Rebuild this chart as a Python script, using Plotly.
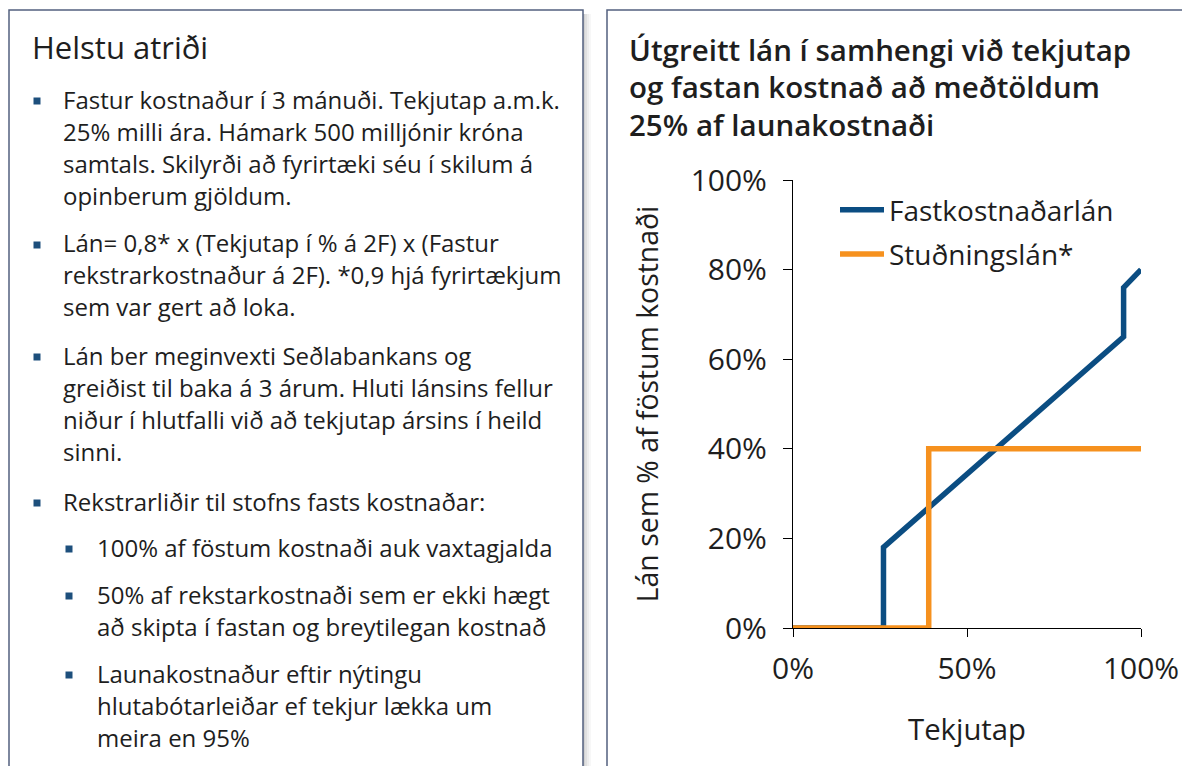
import plotly.graph_objects as go

W, H = 1182, 766

# ---- data ----
tekjutap_fast = [0, 26, 26, 95, 95, 100]
lan_fast = [0, 0, 18, 65, 76, 80]
tekjutap_stud = [0, 39, 39, 100]
lan_stud = [0, 0, 40, 40]
series_names = ["Fastkostnaðarlán", "Stuðningslán*"]
y_ticks = [0, 20, 40, 60, 80, 100]
y_ticklabels = ["0%", "20%", "40%", "60%", "80%", "100%"]
x_ticks = [0, 50, 100]
x_ticklabels = ["0%", "50%", "100%"]

chart_title = ["Útgreitt lán í samhengi við tekjutap",
               "og fastan kostnað að meðtöldum",
               "25% af launakostnaði"]
panel_title = "Helstu atriði"
# (lines, level, y of first line)
bullets = [
    (["Fastur kostnaður í 3 mánuði. Tekjutap a.m.k.",
      "25% milli ára. Hámark 500 milljónir króna",
      "samtals. Skilyrði að fyrirtæki séu í skilum á",
      "opinberum gjöldum."], 0, 101),
    (["Lán= 0,8* x (Tekjutap í % á 2F) x (Fastur",
      "rekstrarkostnaður á 2F). *0,9 hjá fyrirtækjum",
      "sem var gert að loka."], 0, 245),
    (["Lán ber meginvexti Seðlabankans og",
      "greiðist til baka á 3 árum. Hluti lánsins fellur",
      "niður í hlutfalli við að tekjutap ársins í heild",
      "sinni."], 0, 357),
    (["Rekstrarliðir til stofns fasts kostnaðar:"], 0, 503),
    (["100% af föstum kostnaði auk vaxtagjalda"], 1, 549),
    (["50% af rekstarkostnaði sem er ekki hægt",
      "að skipta í fastan og breytilegan kostnað"], 1, 596),
    (["Launakostnaður eftir nýtingu",
      "hlutabótarleiðar ef tekjur lækka um",
      "meira en 95%"], 1, 675),
]

BLUE = "#0b4d82"
ORANGE = "#f6911e"
TXT = "#1e1e1e"
FONT = "Open Sans"


def px(x):
    return x / W


def py(y):
    return 1 - y / H


fig = go.Figure()
fig.add_trace(go.Scatter(x=tekjutap_fast, y=lan_fast, mode="lines", name=series_names[0],
                         line=dict(color=BLUE, width=5.5), cliponaxis=False, legendgroup="a"))
fig.add_trace(go.Scatter(x=tekjutap_stud, y=lan_stud, mode="lines", name=series_names[1],
                         line=dict(color=ORANGE, width=5.5), cliponaxis=False, legendgroup="b"))

annotations = []
shapes = []

# panels
shadow_cols = ["rgba(0,0,0,0.18)", "rgba(0,0,0,0.12)", "rgba(0,0,0,0.07)", "rgba(0,0,0,0.03)"]
for i, c in enumerate(shadow_cols):
    shapes.append(dict(type="rect", xref="paper", yref="paper", layer="below",
                       x0=px(583 + 2 * i), x1=px(585 + 2 * i), y0=py(800), y1=py(14),
                       line=dict(width=0), fillcolor=c))
shapes.append(dict(type="rect", xref="paper", yref="paper", layer="below",
                   x0=px(9), x1=px(583), y0=py(800), y1=py(10),
                   line=dict(color="#53607f", width=1.5), fillcolor="white"))
shapes.append(dict(type="rect", xref="paper", yref="paper", layer="below",
                   x0=px(607), x1=px(1200), y0=py(800), y1=py(10),
                   line=dict(color="#53607f", width=1.5), fillcolor="white"))

annotations.append(dict(text=panel_title, x=px(30), y=py(47), xref="paper", yref="paper",
                        xanchor="left", yanchor="middle", showarrow=False,
                        font=dict(family=FONT, size=31, color=TXT)))

LINE_H = 32
for lines, level, y0 in bullets:
    bx = 37 if level == 0 else 69
    tx = 61 if level == 0 else 95
    shapes.append(dict(type="rect", xref="paper", yref="paper",
                       x0=px(bx - 3.5), x1=px(bx + 3.5), y0=py(y0 + 3.5), y1=py(y0 - 3.5),
                       line=dict(width=0), fillcolor="#1d4f7c"))
    for k, ln in enumerate(lines):
        annotations.append(dict(text=ln, x=px(tx), y=py(y0 - 2 + k * LINE_H), xref="paper", yref="paper",
                                xanchor="left", yanchor="middle", showarrow=False,
                                font=dict(family=FONT, size=24, color=TXT)))

for k, ln in enumerate(chart_title):
    annotations.append(dict(text=ln, x=px(627), y=py(49 + k * 38), xref="paper", yref="paper",
                            xanchor="left", yanchor="middle", showarrow=False,
                            font=dict(family=FONT, size=29.5, color=TXT, weight=600)))

fig.update_layout(
    width=W, height=H,
    margin=dict(l=0, r=0, t=0, b=0, autoexpand=False),
    paper_bgcolor="white", plot_bgcolor="rgba(0,0,0,0)",
    font=dict(family=FONT, color=TXT),
    showlegend=True,
    legend=dict(x=px(835), y=py(185), xanchor="left", yanchor="top",
                bgcolor="rgba(0,0,0,0)", font=dict(family=FONT, size=28, color=TXT),
                itemwidth=44, tracegroupgap=5),
    xaxis=dict(domain=[px(793), px(1141)], range=[0, 100], tickvals=x_ticks, ticktext=x_ticklabels,
               showgrid=False, zeroline=False, showline=True, linecolor="black", linewidth=1.2,
               ticks="outside", ticklen=8, tickcolor="black", tickwidth=1.2,
               tickfont=dict(family=FONT, size=30, color=TXT), ticklabelstandoff=6,
               layer="below traces",
               title=dict(text="Tekjutap", font=dict(family=FONT, size=29.3, color=TXT), standoff=32)),
    yaxis=dict(domain=[py(628), py(180)], range=[0, 100], tickvals=y_ticks, ticktext=y_ticklabels,
               showgrid=False, zeroline=False, showline=True, linecolor="black", linewidth=1.2,
               ticks="outside", ticklen=9, tickcolor="black", tickwidth=1.2,
               tickfont=dict(family=FONT, size=30, color=TXT), ticklabelstandoff=10,
               layer="below traces",
               title=dict(text="Lán sem % af föstum kostnaði",
                          font=dict(family=FONT, size=28.4, color=TXT), standoff=23)),
    annotations=annotations,
    shapes=shapes,
)

fig.write_html("out.html", config={"displayModeBar": False},
               post_script="document.body.style.margin='0';")
